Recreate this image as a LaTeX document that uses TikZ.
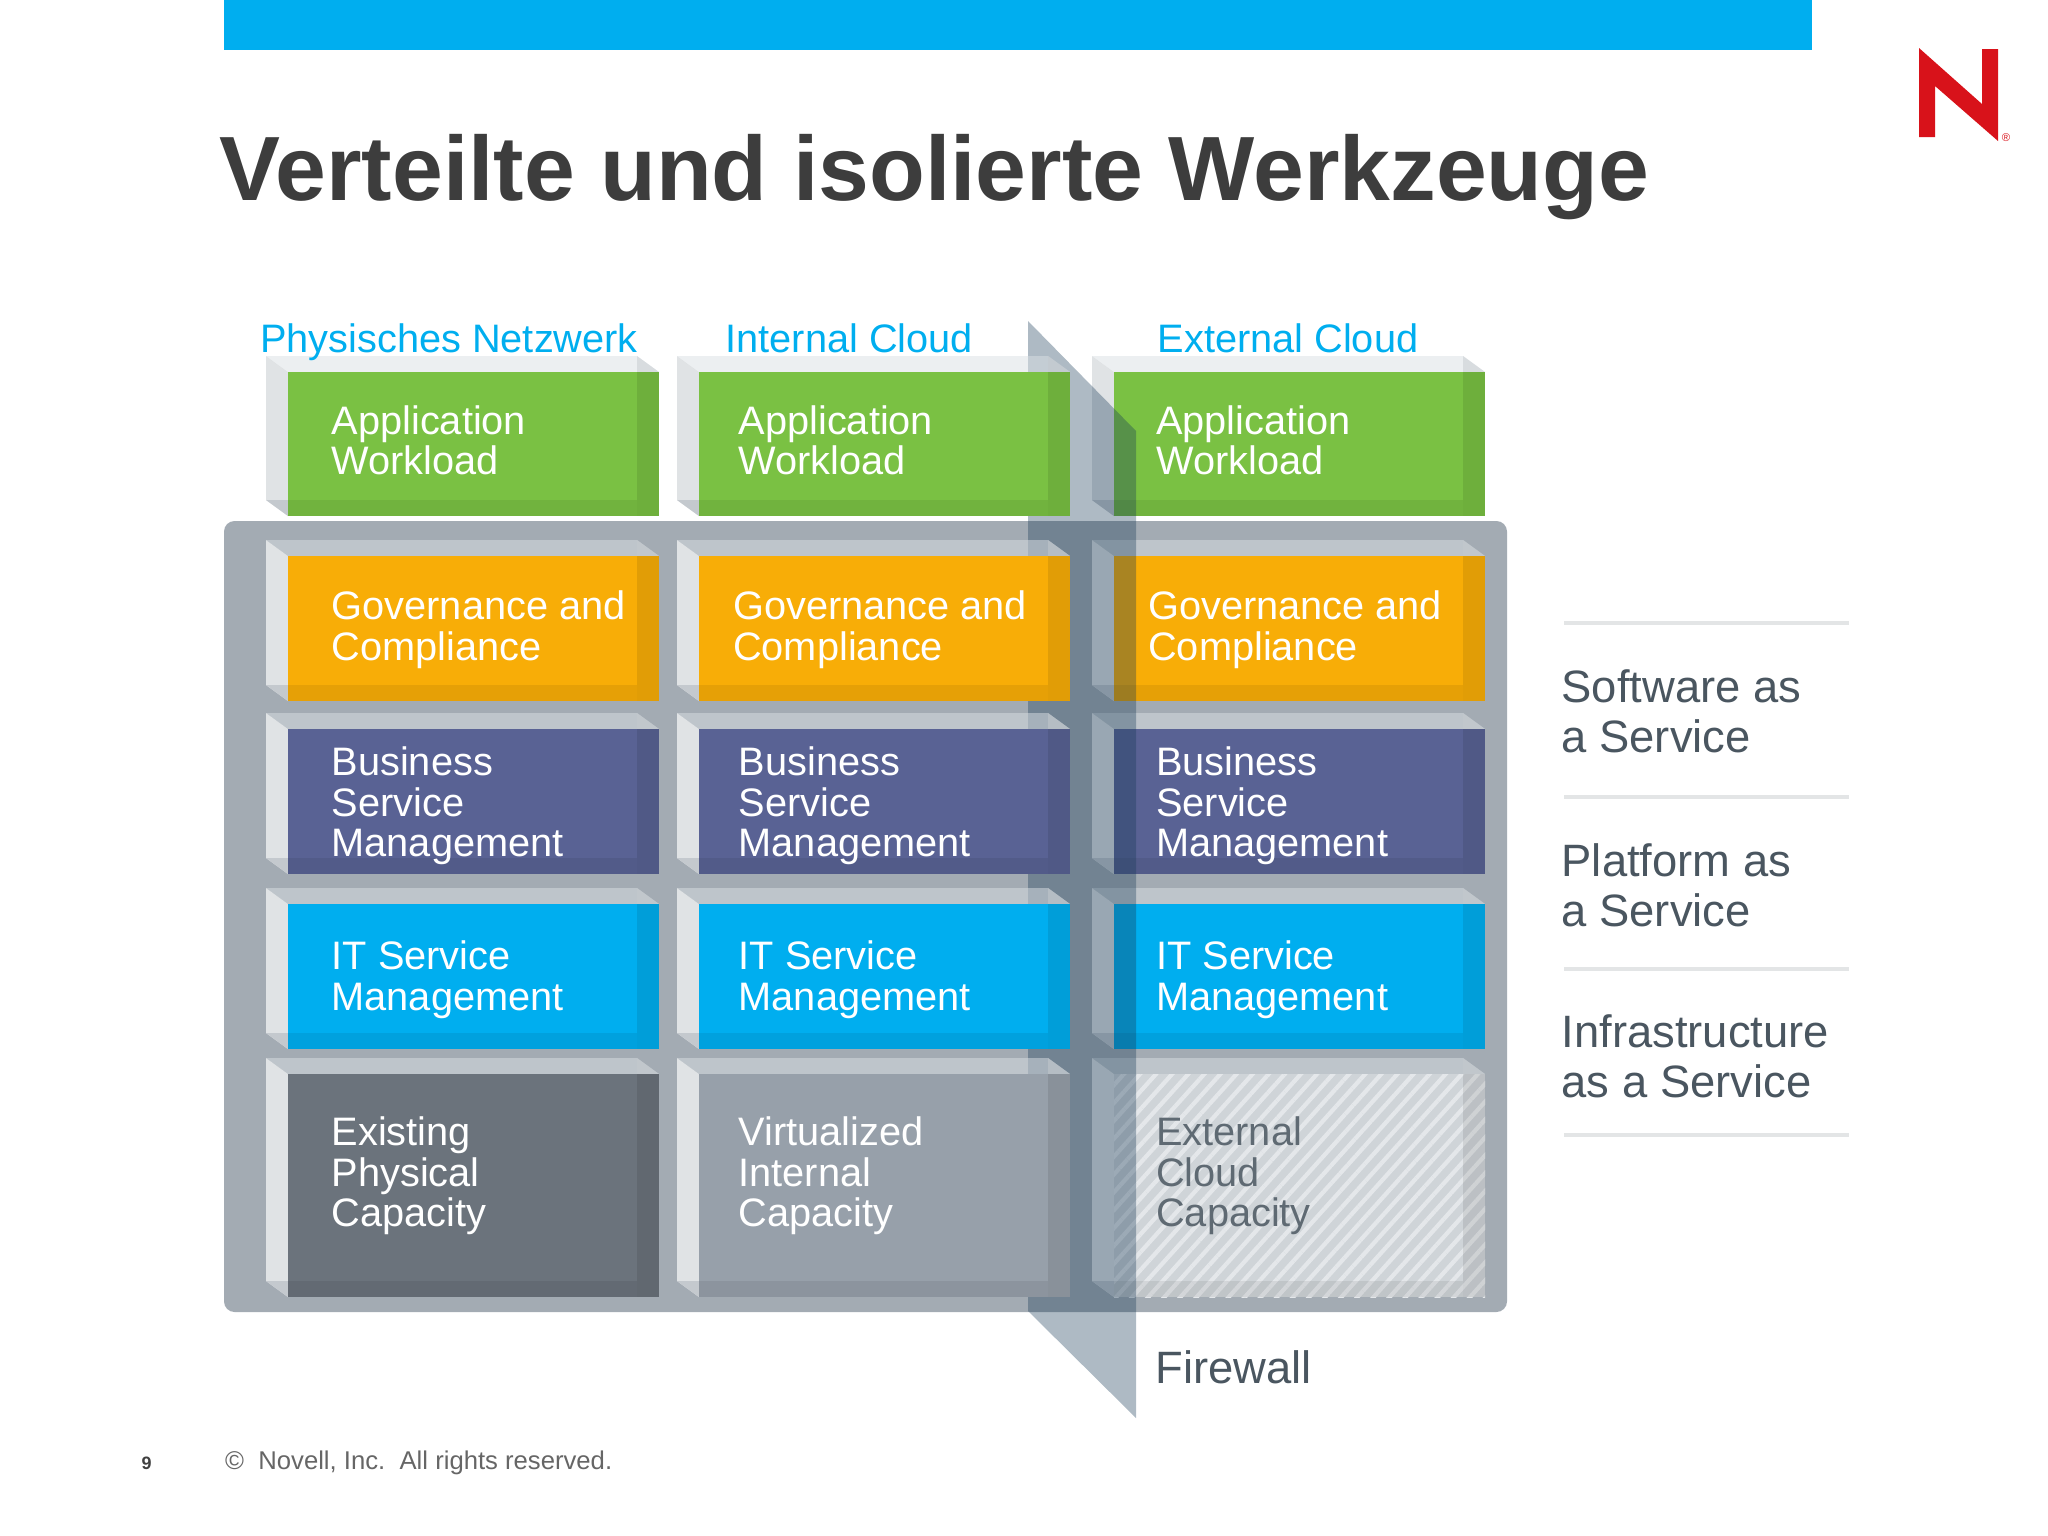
\documentclass[tikz,border=0pt]{standalone}
\usepackage{fontspec}
\setmainfont{Liberation Sans}
\usepackage{xcolor}
\usetikzlibrary{patterns.meta}
\definecolor{slideblue}{HTML}{00AEEF}
\definecolor{panelgray}{HTML}{A3ABB3}
\definecolor{wallblue}{HTML}{173956}
\definecolor{appgreen}{HTML}{7AC143}
\definecolor{govorange}{HTML}{F8AD07}
\definecolor{bizblue}{HTML}{596294}
\definecolor{physgray}{HTML}{6B737C}
\definecolor{virtgray}{HTML}{97A0AA}
\definecolor{hatchlight}{HTML}{E4E7EA}
\definecolor{hatchdark}{HTML}{CFD4D8}
\definecolor{sidegray}{HTML}{E0E3E5}
\definecolor{topgray}{HTML}{DAE0E4}
\definecolor{cornergray}{HTML}{C4C9CE}
\definecolor{darktext}{HTML}{4A5660}
\definecolor{captext}{HTML}{5F6A73}
\definecolor{novellred}{HTML}{D8121A}
\definecolor{rulegray}{HTML}{E3E5E6}
\tikzset{
  layertext/.style={anchor=north west,inner sep=0pt,align=left,text=white,
    font=\fontsize{11.3}{11.52}\selectfont,execute at begin node=\strut},
  headtext/.style={anchor=base west,inner sep=0pt,text=slideblue,font=\fontsize{11.3}{11.5}\selectfont},
  sidetext/.style={anchor=north west,inner sep=0pt,align=left,text=darktext,
    font=\fontsize{12.9}{14.2}\selectfont,execute at begin node=\strut},
  hatchfill/.style={preaction={fill=hatchdark},pattern={Lines[angle=48,distance=3.4pt,line width=1.2pt]},pattern color=hatchlight},
}
% one block: front left x, front top y, front bottom y, fill
\newcommand{\layerbox}[4]{
  \fill[sidegray] (#1-22,#2-16) -- (#1,#2) -- (#1,#3) -- (#1-22,#3-16) -- cycle;
  \fill[cornergray] (#1-22,#3-16) -- (#1,#3) -- (#1,#3-16) -- cycle;
  \fill[topgray,opacity=.5] (#1-22,#2-16) -- (#1+349,#2-16) -- (#1+371,#2) -- (#1,#2) -- cycle;
  \fill[cornergray,opacity=.5] (#1+349,#2-16) -- (#1+371,#2) -- (#1+349,#2) -- cycle;
  \fill[#4] (#1,#2) rectangle (#1+371,#3);
  \fill[black,opacity=.09] (#1+349,#2) rectangle (#1+371,#3);
  \fill[black,opacity=.07] (#1,#3-16) rectangle (#1+349,#3);
}
\newcommand{\layercolumn}[2]{
  \layerbox{#1}{372}{516}{appgreen}
  \layerbox{#1}{556}{701}{govorange}
  \layerbox{#1}{729}{874}{bizblue}
  \layerbox{#1}{904}{1049}{slideblue}
  \layerbox{#1}{1074}{1297}{#2}
}
\begin{document}
\begin{tikzpicture}[x=0.01cm,y=-0.01cm]
  \useasboundingbox (0,0) rectangle (2048,1536);
  \fill[slideblue] (224,0) rectangle (1812,50);
  \node[anchor=base west,inner sep=0pt,text=black!76,font=\fontsize{25.97}{28}\selectfont\bfseries] (title) at (219,200) {Verteilte und isolierte Werkzeuge};

  % logo
  \fill[novellred] (1919,48) -- (1982,104) -- (1982,49) -- (1998,49) -- (1998,141) -- (1935,86) -- (1935,137) -- (1919,137) -- cycle;
  \node[inner sep=0pt,text=novellred,font=\fontsize{3.2}{4}\selectfont] (regmark) at (2006,138) {®};

  % panel, then external column below the wall and the others above it
  \fill[panelgray,rounded corners=3pt] (224,521) rectangle (1507,1312);
  \layercolumn{1114}{hatchfill}
  \fill[wallblue,opacity=.35] (1028,321) -- (1136,431) -- (1136,1418) -- (1028,1311) -- cycle;
  \layercolumn{288}{physgray}
  \layercolumn{699}{virtgray}

  \node[headtext] (physhead) at (259.5,352) {Physisches Netzwerk};
  \node[headtext] (inthead) at (725,352.5) {Internal Cloud};
  \node[headtext] (exthead) at (1157,352) {External Cloud};

  \foreach \tx/\nm in {331/a,738/b,1155.5/c} {
    \node[layertext] (app\nm) at (\tx,404.5) {Application\\Workload};
    \node[layertext] (biz\nm) at (\tx,746) {Business\\Service\\Management};
    \node[layertext] (its\nm) at (\tx,940) {IT Service\\Management};
  }
  \foreach \tx/\nm in {331/a,732.5/b,1147.5/c}
    \node[layertext] (gov\nm) at (\tx,590) {Governance and\\Compliance};
  \node[layertext] (capa) at (331,1116) {Existing\\Physical\\Capacity};
  \node[layertext] (capb) at (738,1116) {Virtualized\\Internal\\Capacity};
  \node[layertext,text=captext] (capc) at (1155.5,1116) {External\\Cloud\\Capacity};

  \foreach \ry in {623,797,969,1135}
    \draw[rulegray,line width=1.4pt] (1564,\ry) -- (1849,\ry);
  \node[sidetext] (saas) at (1561,669) {Software as\\a Service};
  \node[sidetext] (paas) at (1561,842.5) {Platform as\\a Service};
  \node[sidetext] (iaas) at (1561,1014) {Infrastructure\\as a Service};

  \node[anchor=base west,inner sep=0pt,text=darktext,font=\fontsize{12.9}{14}\selectfont] (wall) at (1155,1383) {Firewall};

  \node[anchor=base west,inner sep=0pt,text=black!75,font=\fontsize{5.1}{6}\selectfont\bfseries] (pagenum) at (141,1469) {9};
  \node[anchor=base west,inner sep=0pt,text=black!60,font=\fontsize{7.3}{8}\selectfont] (copy) at (224.5,1469) {©\ \ Novell, Inc.\ \ All rights reserved.};
\end{tikzpicture}
\end{document}
